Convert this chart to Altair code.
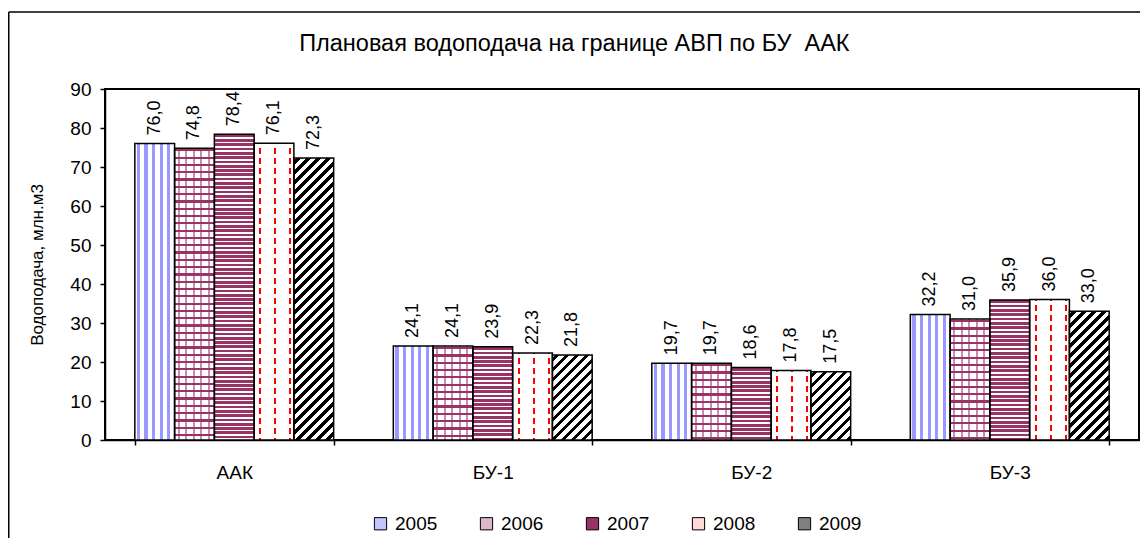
import altair as alt
import pandas as pd

# ---------------- data ----------------
categories = ["ААК", "БУ-1", "БУ-2", "БУ-3"]
years = ["2005", "2006", "2007", "2008", "2009"]
v2005 = [76.0, 24.1, 19.7, 32.2]
v2006 = [74.8, 24.1, 19.7, 31.0]
v2007 = [78.4, 23.9, 18.6, 35.9]
v2008 = [76.1, 22.3, 17.8, 36.0]
v2009 = [72.3, 21.8, 17.5, 33.0]
y_ticks = [0, 10, 20, 30, 40, 50, 60, 70, 80, 90]
title_text = "Плановая водоподача на границе АВП по БУ \u00a0ААК"
y_title = "Водоподача, млн.м3"

series = {"2005": v2005, "2006": v2006, "2007": v2007, "2008": v2008, "2009": v2009}
df = pd.DataFrame(
    [{"category": c, "year": y, "value": v}
     for y in years for c, v in zip(categories, series[y])]
)

# ---------------- layout / style ----------------
FONT = "Liberation Sans"
W, H = 1034, 351
PAD = {"left": 97, "top": 81, "right": 1, "bottom": 98}
Y_MAX = 90
P_IN = 0.2308
BAR_W = W / (len(categories) - P_IN + P_IN) * (1 - P_IN) / len(years)
MAROON = "#993366"
BLUE = "#9999FF"
CLEAR = "rgba(255,255,255,0)"


def gs(color, off):
    return alt.GradientStop(color=color, offset=round(min(max(off, 0.0), 1.0), 5))


def stripe_stops(length, period, width, on, off, start=0.0):
    x = start
    while x > 0:
        x -= period
    segs = []
    while x < length:
        a, b = max(x, 0.0), min(x + width, length)
        if b > a:
            segs.append((a, b))
        x += period
    stops = [gs(off, 0.0)]
    for a, b in segs:
        stops += [gs(off, a / length), gs(on, a / length), gs(on, b / length), gs(off, b / length)]
    stops.append(gs(off, 1.0))
    return stops


def grad(stops, x2=1.0, y2=0.0):
    return alt.LinearGradient(gradient="linear", stops=stops, x1=0, y1=0,
                              x2=round(x2, 5), y2=round(y2, 5))


X = alt.X("category:N",
          scale=alt.Scale(domain=categories, paddingInner=P_IN, paddingOuter=P_IN / 2),
          axis=alt.Axis(title=None, labelAngle=0, tickBand="extent", tickSize=5,
                        labelPadding=18, labelFontSize=19))
XO = alt.XOffset("year:N", scale=alt.Scale(domain=years, paddingInner=0, paddingOuter=0))
Y = alt.Y("value:Q",
          scale=alt.Scale(domain=[0, Y_MAX], nice=False, zero=True),
          axis=alt.Axis(values=y_ticks, title=y_title, tickSize=5, labelPadding=9,
                        titlePadding=23, labelFontSize=19, titleFontSize=17,
                        titleFontWeight="normal"))


def one_bar(c, y, fill):
    return (alt.Chart(df)
            .transform_filter((alt.datum.category == c) & (alt.datum.year == y))
            .mark_bar(fill=fill)
            .encode(x=X, xOffset=XO, y=Y))


def year_bars(y, fill):
    return (alt.Chart(df)
            .transform_filter(alt.datum.year == y)
            .mark_bar(fill=fill)
            .encode(x=X, xOffset=XO, y=Y))


layers = []

# outer chart frame (top and left edges; the others fall outside the picture)
frame_df = pd.DataFrame({"f": [0]})
layers.append(
    alt.Chart(frame_df).mark_rule(stroke="black", strokeWidth=1.5)
    .encode(x=alt.value(-PAD["left"] + 0.75), x2=alt.value(W + PAD["right"]),
            y=alt.value(-77))
)
layers.append(
    alt.Chart(frame_df).mark_rule(stroke="black", strokeWidth=1.5)
    .encode(x=alt.value(-PAD["left"] + 0.75), y=alt.value(-77), y2=alt.value(H + PAD["bottom"]))
)

# base bars (also produce the legend)
legend_colors = ["#c4c4ff", "#dcb8ca", MAROON, "#ffd8d8", "#808080"]
layers.append(
    alt.Chart(df).mark_bar().encode(
        x=X, xOffset=XO, y=Y,
        color=alt.Color("year:N", scale=alt.Scale(domain=years, range=legend_colors),
                        legend=alt.Legend(title=None, orient="none", direction="horizontal",
                                          legendX=266, legendY=425, symbolType="square",
                                          symbolSize=150, symbolStrokeColor="black",
                                          symbolStrokeWidth=1, labelFontSize=19,
                                          labelOffset=5, columnPadding=39,
                                          labelFont=FONT, symbolOpacity=1))
    )
)

# 2005: vertical blue stripes
layers.append(year_bars("2005", grad(stripe_stops(BAR_W, 7.6, 3.2, BLUE, "white", 2.0))))

# 2006: brick-like (horizontal mortar per bar + lighter vertical mortar)
for c, v in zip(categories, v2006):
    h = v / Y_MAX * H
    layers.append(one_bar(c, "2006", grad(stripe_stops(h, 7.3, 2.2, MAROON, "white", 1.0), 0.0, 1.0)))
layers.append(year_bars("2006", grad(stripe_stops(BAR_W, 7.5, 2.0, "rgba(153,51,102,0.55)", CLEAR, 3.0))))

# 2007: horizontal maroon stripes
for c, v in zip(categories, v2007):
    h = v / Y_MAX * H
    layers.append(one_bar(c, "2007", grad(stripe_stops(h, 4.3, 2.7, MAROON, "white", 0.5), 0.0, 1.0)))

# 2008: red dashed vertical lines
layers.append(year_bars("2008", grad(stripe_stops(BAR_W, 15.0, 2.2, "#FF0000", "white", 5.0))))
for c, v in zip(categories, v2008):
    h = v / Y_MAX * H
    layers.append(one_bar(c, "2008", grad(stripe_stops(h, 10.0, 4.0, "white", CLEAR, 1.0), 0.0, 1.0)))

# 2009: black diagonal stripes (////)
for c, v in zip(categories, v2009):
    h = v / Y_MAX * H
    L = BAR_W + h
    k = (BAR_W + h) / (BAR_W ** 2 + h ** 2)
    layers.append(one_bar(c, "2009", grad(stripe_stops(L, 10.0, 4.3, "black", "white", 3.0),
                                          BAR_W * k, h * k)))

# outlines
layers.append(
    alt.Chart(df).mark_bar(fillOpacity=0, stroke="black", strokeWidth=1.5)
    .encode(x=X, xOffset=XO, y=Y)
)

# value labels
layers.append(
    alt.Chart(df)
    .transform_calculate(label="replace(format(datum.value, '.1f'), '.', ',')")
    .mark_text(angle=270, align="left", baseline="middle", dx=8, fontSize=18,
               font=FONT, color="black")
    .encode(x=X, xOffset=XO, y=Y, text="label:N")
)

chart = (
    alt.layer(*layers)
    .properties(
        width=W, height=H,
        padding=PAD,
        autosize=alt.AutoSizeParams(type="none"),
        title=alt.TitleParams(title_text, font=FONT, fontSize=23.5, fontWeight="normal",
                              anchor="middle", frame="bounds", offset=-44, color="black"),
    )
    .configure_view(stroke="black", strokeWidth=2)
    .configure_axis(domainColor="black", domainWidth=1.5, tickColor="black", tickWidth=1.5,
                    labelColor="black", titleColor="black", labelFont=FONT, titleFont=FONT,
                    grid=False)
    .configure_legend(labelColor="black")
)

chart.save("out.html", embed_options={"renderer": "svg", "actions": False})
